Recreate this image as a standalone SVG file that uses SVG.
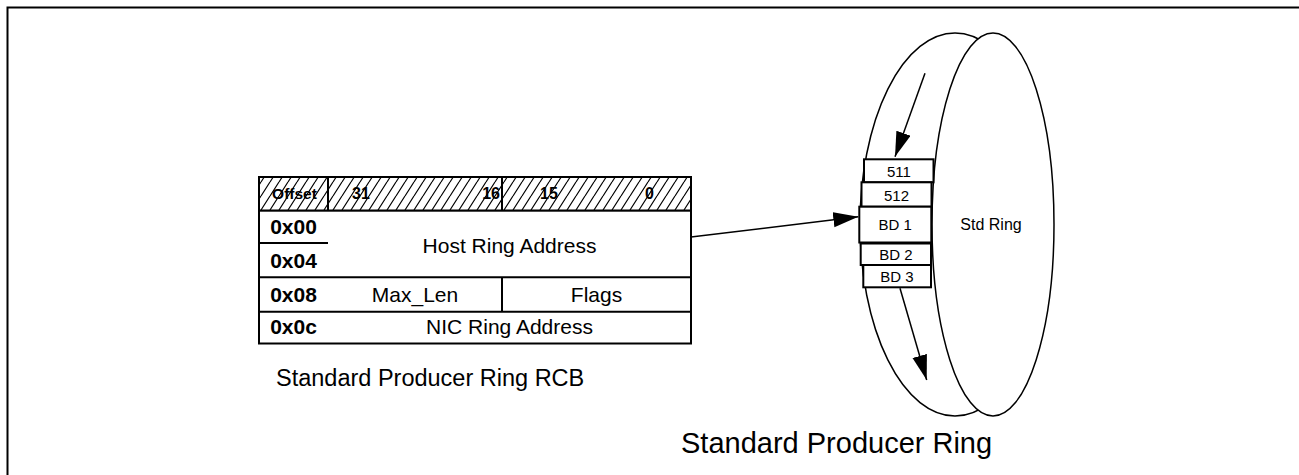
<svg xmlns="http://www.w3.org/2000/svg" width="1299" height="475" viewBox="0 0 1299 475">
<style>
text{font-family:"Liberation Sans",Arial,sans-serif;fill:#000}
.b{font-weight:bold}
.c{text-anchor:middle}
.ln{stroke:#000;stroke-width:2;fill:none}
.box{fill:#fff;stroke:#000;stroke-width:2}
.conn{stroke:#000;stroke-width:1.5;fill:none}
.bd{font-size:15px;text-anchor:middle}
</style>
<defs>
<pattern id="hatch" patternUnits="userSpaceOnUse" width="9" height="14">
<rect width="9" height="14" fill="#fff"/>
<path d="M0,14 L9,0 M-9,14 L0,0 M9,14 L18,0" stroke="#000" stroke-width="1.2"/>
</pattern>
<marker id="ah" markerUnits="userSpaceOnUse" markerWidth="26" markerHeight="16" refX="25" refY="7.5" orient="auto">
<path d="M0,0 L25,7.5 L0,15 z" fill="#000"/>
</marker>
</defs>
<rect x="7.5" y="7.5" width="1300" height="500" fill="#fff" stroke="#000" stroke-width="2"/>

<g id="rcb-table">
<rect x="259" y="177" width="432" height="33.7" fill="url(#hatch)" stroke="#000" stroke-width="2"/>
<line class="ln" x1="328" y1="177" x2="328" y2="343.5"/>
<line class="ln" x1="502" y1="177" x2="502" y2="210.7"/>
<rect x="259" y="210.7" width="432" height="132.8" fill="#fff" stroke="#000" stroke-width="2"/>
<line class="ln" x1="259" y1="243" x2="328" y2="243"/>
<line class="ln" x1="259" y1="277.3" x2="691" y2="277.3"/>
<line class="ln" x1="259" y1="311.7" x2="691" y2="311.7"/>
<line class="ln" x1="502" y1="277.3" x2="502" y2="311.7"/>
<text class="b c" x="294.5" y="198.5" font-size="15.5">Offset</text>
<text class="b" x="352" y="199" font-size="16">31</text>
<text class="b" x="500" y="199" font-size="16" text-anchor="end">16</text>
<text class="b" x="540" y="199" font-size="16">15</text>
<text class="b" x="645" y="199" font-size="16">0</text>
<text class="b c" x="293.5" y="234" font-size="21">0x00</text>
<text class="b c" x="293.5" y="267.5" font-size="21">0x04</text>
<text class="b c" x="293.5" y="302" font-size="21">0x08</text>
<text class="b c" x="293.5" y="334" font-size="21">0x0c</text>
<text class="c" x="509.5" y="253" font-size="21">Host Ring Address</text>
<text class="c" x="415" y="302" font-size="21">Max_Len</text>
<text class="c" x="596.5" y="302" font-size="21">Flags</text>
<text class="c" x="509.5" y="334" font-size="21">NIC Ring Address</text>
<text x="276" y="386" font-size="23.5">Standard Producer Ring RCB</text>
</g>

<g id="ring">
<ellipse cx="955" cy="224.5" rx="95" ry="191.5" fill="#fff" stroke="#000" stroke-width="1.5"/>
<ellipse cx="993" cy="224.5" rx="61" ry="191.5" fill="#fff" stroke="#000" stroke-width="1.5"/>
<text class="c" x="991" y="229.5" font-size="16">Std Ring</text>
<text x="681" y="453" font-size="29">Standard Producer Ring</text>
</g>

<g id="bd-511">
<rect class="box" x="864" y="159.3" width="69.5" height="23"/>
<text class="bd" x="899" y="176.5">511</text>
</g>
<g id="bd-512">
<rect class="box" x="861.5" y="182.3" width="70" height="24.4"/>
<text class="bd" x="896.5" y="200.5">512</text>
</g>
<g id="bd-1">
<rect class="box" x="859.3" y="206.7" width="72" height="35.8"/>
<text class="bd" x="895.3" y="230">BD 1</text>
</g>
<g id="bd-2">
<rect class="box" x="860.7" y="243.5" width="70.3" height="21.5"/>
<text class="bd" x="896" y="260">BD 2</text>
</g>
<g id="bd-3">
<rect class="box" x="863.3" y="265" width="67.7" height="22.3"/>
<text class="bd" x="897" y="282">BD 3</text>
</g>

<g id="connectors">
<line class="conn" x1="691" y1="237" x2="858.3" y2="216.7" marker-end="url(#ah)"/>
<line class="conn" x1="925" y1="73.3" x2="895" y2="156.7" marker-end="url(#ah)"/>
<line class="conn" x1="900" y1="288.3" x2="926.7" y2="380" marker-end="url(#ah)"/>
</g>
</svg>
